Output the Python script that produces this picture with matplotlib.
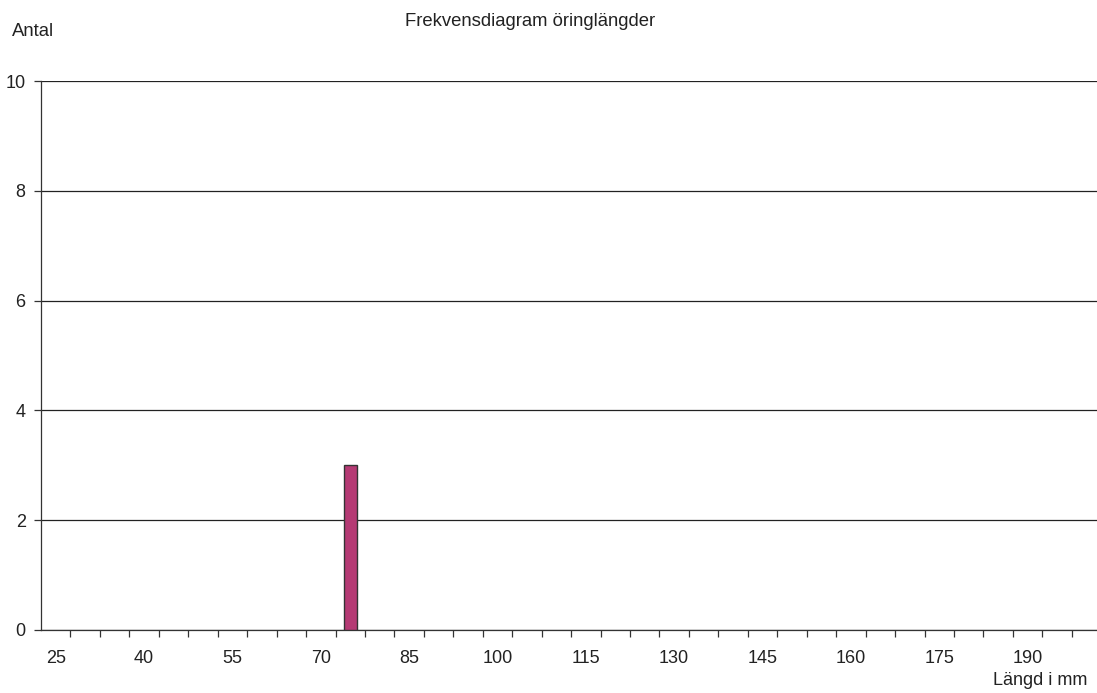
import numpy as np
import matplotlib.pyplot as plt

plt.rcParams["font.family"] = ["Liberation Sans", "DejaVu Sans"]

# length classes (mm) and counts
lengths = list(range(25, 205, 5))
counts = [0] * len(lengths)
counts[lengths.index(75)] = 3
y_ticks = [0, 2, 4, 6, 8, 10]

fig = plt.figure(figsize=(10.97, 6.93), dpi=100)
W, H = 1097, 693
x0, x1 = 41, 41 + 36 * 29.45
y0, y1 = 630, 81
ax = fig.add_axes([x0 / W, (H - y0) / H, (x1 - x0) / W, (y0 - y1) / H])

pos = np.arange(len(lengths))
counts = np.array(counts)
nz = counts > 0
ax.bar(pos[nz], counts[nz], width=0.44, color="#b53a74", edgecolor="#333333",
       linewidth=1.0, zorder=3)

ax.set_xlim(-0.5, len(lengths) - 0.5)
ax.set_ylim(0, 10)
ax.set_yticks(y_ticks)
ax.yaxis.grid(True, color="#222222", linewidth=0.9)
ax.set_axisbelow(True)

# ticks at class boundaries, labels on every third class
ax.set_xticks(pos[:-1] + 0.5, minor=False)
ax.set_xticklabels([])
ax.set_xticks(pos[::3], minor=True)
ax.set_xticklabels([str(v) for v in lengths[::3]], minor=True)
ax.tick_params(axis="x", which="major", length=5, width=0.9, color="#333333")
ax.tick_params(axis="x", which="minor", length=0, pad=14.5, labelsize=13, labelcolor="#222222")
ax.tick_params(axis="y", length=5, width=0.9, color="#333333", labelsize=13,
               labelcolor="#222222", pad=6)

for s in ["top", "right"]:
    ax.spines[s].set_visible(False)
for s in ["left", "bottom"]:
    ax.spines[s].set_color("#333333")
    ax.spines[s].set_linewidth(0.9)

fig.text(530 / W, 1 - 22 / H, "Frekvensdiagram öringlängder", ha="center", va="center",
         fontsize=13.3, color="#222222")
fig.text(12 / W, 1 - 31 / H, "Antal", ha="left", va="center", fontsize=13.3, color="#222222")
fig.text(1087 / W, 1 - 685 / H, "Längd i mm", ha="right", va="baseline", fontsize=13,
         color="#222222")

fig.savefig("out.png", dpi=100)
